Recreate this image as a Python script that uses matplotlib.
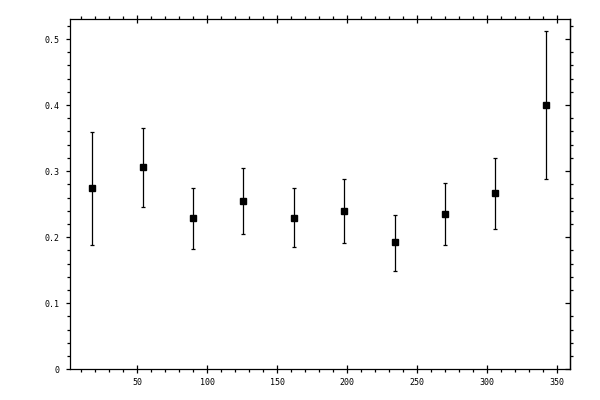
import matplotlib
matplotlib.use('Agg')
import matplotlib.pyplot as plt
import numpy as np
from matplotlib.ticker import MultipleLocator, FuncFormatter

# значения
x_vals = [18, 54, 90, 126, 162, 198, 234, 270, 306, 342]
y_vals = [0.274, 0.306, 0.229, 0.254, 0.229, 0.239, 0.192, 0.235, 0.267, 0.400]
y_upper = [0.359, 0.366, 0.275, 0.304, 0.274, 0.288, 0.234, 0.282, 0.320, 0.512]
y_lower = [0.188, 0.245, 0.182, 0.204, 0.185, 0.191, 0.148, 0.188, 0.212, 0.288]

y = np.array(y_vals)
err = [y - np.array(y_lower), np.array(y_upper) - y]

plt.rcParams['font.family'] = ['DejaVu Sans Mono']

fig = plt.figure(figsize=(6, 4), dpi=100)
ax = fig.add_axes([0.116, 0.077, 0.834, 0.875])

ax.errorbar(x_vals, y_vals, yerr=err, fmt='s', color='black', ecolor='black',
            markersize=5, elinewidth=0.9, capsize=1.7, capthick=0.9)

ax.set_xlim(1.8, 359.3)
ax.set_ylim(0, 0.53)

ax.xaxis.set_major_locator(MultipleLocator(50))
ax.xaxis.set_minor_locator(MultipleLocator(10))
ax.yaxis.set_major_locator(MultipleLocator(0.1))
ax.yaxis.set_minor_locator(MultipleLocator(0.02))
ax.yaxis.set_major_formatter(FuncFormatter(lambda v, p: '%g' % round(v, 2)))
ax.xaxis.set_major_formatter(FuncFormatter(lambda v, p: '%g' % v))

for s in ax.spines.values():
    s.set_linewidth(0.9)

ax.tick_params(axis='x', which='major', direction='inout', length=6, width=0.9,
               top=True, labelsize=6, pad=3)
ax.tick_params(axis='x', which='minor', direction='out', length=2.5, width=0.9, top=True)
ax.tick_params(axis='y', which='major', direction='out', length=3, width=0.9,
               right=False, labelsize=6, pad=4)
ax.tick_params(axis='y', which='minor', direction='out', length=2.4, width=0.9, right=False)

# правая ось: большие засечки внутрь, малые наружу
ax2 = ax.secondary_yaxis('right')
ax2.yaxis.set_major_locator(MultipleLocator(0.1))
ax2.yaxis.set_minor_locator(MultipleLocator(0.02))
ax2.tick_params(axis='y', which='major', direction='in', length=3.3, width=0.9, labelright=False)
ax2.tick_params(axis='y', which='minor', direction='out', length=2.2, width=0.9)
ax2.spines['right'].set_linewidth(0.9)

plt.savefig('out.png', dpi=100)
plt.close()
